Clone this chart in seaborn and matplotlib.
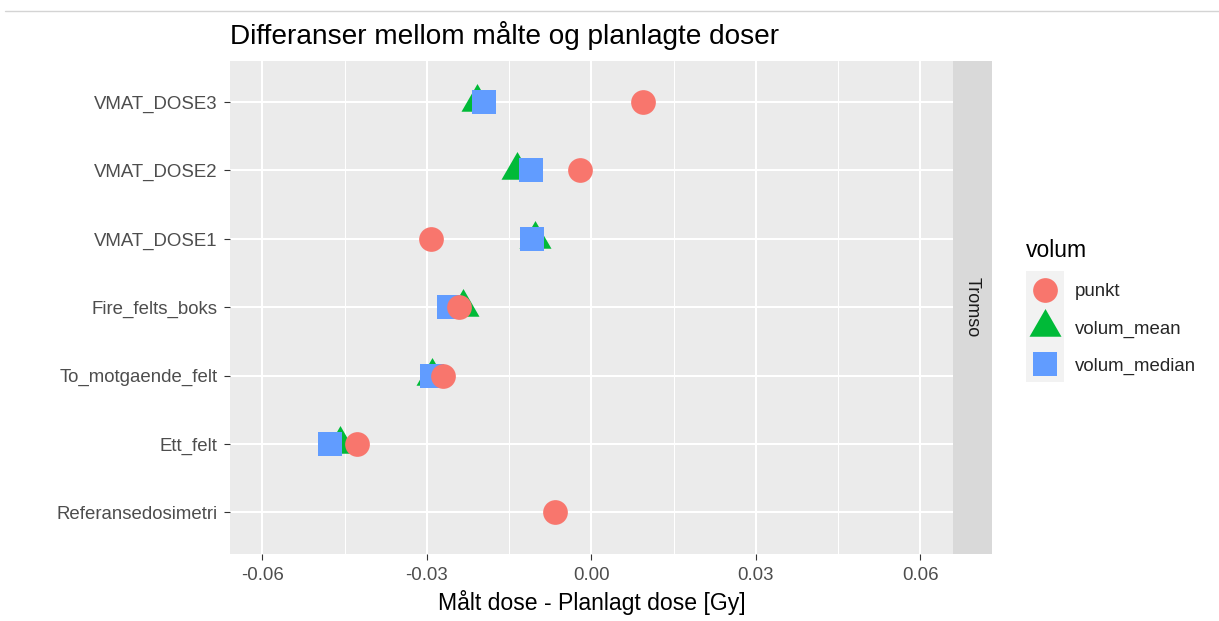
import numpy as np
import pandas as pd
import matplotlib
matplotlib.use("Agg")
import matplotlib.pyplot as plt
from matplotlib.path import Path
from matplotlib.lines import Line2D
from matplotlib.patches import Rectangle
import seaborn as sns

# --------- Data -----------------------------------
felt = ["VMAT_DOSE3", "VMAT_DOSE2", "VMAT_DOSE1", "Fire_felts_boks",
        "To_motgaende_felt", "Ett_felt", "Referansedosimetri"]
punkt = [0.0094, -0.0021, -0.0293, -0.0242, -0.0271, -0.0428, -0.0067]
volum_mean = [-0.0209, -0.0135, -0.0102, -0.0235, -0.0290, -0.0458, np.nan]
volum_median = [-0.0195, -0.0111, -0.0109, -0.0260, -0.0290, -0.0477, np.nan]
volum_levels = ["punkt", "volum_mean", "volum_median"]
x_ticks = [-0.06, -0.03, 0.00, 0.03, 0.06]
x_minor = [-0.045, -0.015, 0.015, 0.045]
senter = "Tromso"

df = pd.DataFrame({"felt": felt, "punkt": punkt,
                   "volum_mean": volum_mean, "volum_median": volum_median})
df = df.melt(id_vars="felt", var_name="volum", value_name="diff").dropna()

# ggplot-ish look
sns.set_theme(style="white")
plt.rcParams["font.family"] = ["Liberation Sans", "DejaVu Sans"]

# equilateral triangle like ggplot shape 17
tri = Path([(0, 1.1547), (-1, -0.5774), (1, -0.5774), (0, 1.1547)], closed=True)
colors = {"punkt": "#F8766D", "volum_mean": "#00BA38", "volum_median": "#619CFF"}
markers = {"punkt": "o", "volum_mean": tri, "volum_median": "s"}
msize = {"punkt": 17.8, "volum_mean": 26.6, "volum_median": 17.3}

W, H = 1219, 621
p_left, p_right, p_top, p_bot = 229.5, 953.3, 61, 553.5

fig = plt.figure(figsize=(W / 100, H / 100), dpi=100)
ax = fig.add_axes([p_left / W, 1 - p_bot / H, (p_right - p_left) / W, (p_bot - p_top) / H])
ax.set_facecolor("#EBEBEB")

# draw order: mean, median, then punkt on top
for lvl in ["volum_mean", "volum_median", "punkt"]:
    sub = df[df["volum"] == lvl]
    sns.stripplot(data=sub, x="diff", y="felt", order=felt, jitter=False,
                  marker=markers[lvl], size=msize[lvl], color=colors[lvl],
                  linewidth=0, ax=ax, zorder=3)

ax.set_xlim(-0.066, 0.066)
ax.set_ylim(len(felt) - 1 + 0.6, -0.6)
ax.set_xticks(x_ticks)
ax.set_xticklabels([f"{t:.2f}" for t in x_ticks])
ax.set_xticks(x_minor, minor=True)
ax.grid(True, which="major", axis="both", color="white", linewidth=1.5, zorder=0)
ax.grid(True, which="minor", axis="x", color="white", linewidth=0.75, zorder=0)
ax.set_axisbelow(True)
for s in ax.spines.values():
    s.set_visible(False)
ax.tick_params(axis="both", which="major", length=4.3, width=0.8, color="#333333",
               labelsize=13.4, labelcolor="#4D4D4D", pad=4.5,
               bottom=True, left=True)
ax.tick_params(axis="x", which="major", pad=5.5)
ax.tick_params(axis="x", which="minor", length=0)
ax.set_xlabel("Målt dose - Planlagt dose [Gy]", fontsize=16.6, color="black", labelpad=4)
ax.set_ylabel("")
ax.set_title("Differanser mellom målte og planlagte doser", loc="left",
             fontsize=20.2, color="black", pad=12)

# facet strip on the right
sax = fig.add_axes([p_right / W, 1 - p_bot / H, 38.5 / W, (p_bot - p_top) / H])
sax.set_facecolor("#D9D9D9")
sax.set_xticks([]); sax.set_yticks([])
for s in sax.spines.values():
    s.set_visible(False)
sax.text(0.5, 0.5, senter, rotation=-90, ha="center", va="center",
         fontsize=13, color="#1A1A1A", transform=sax.transAxes)

# legend: grey key column, title as separate text
handles = [Line2D([], [], marker=markers[l], markersize=msize[l], color=colors[l],
                  markeredgewidth=0, linestyle="none") for l in volum_levels]
fig.patches.append(Rectangle((1026 / W, 1 - 382 / H), 37.5 / W, 111 / H,
                             transform=fig.transFigure, facecolor="#F2F2F2",
                             edgecolor="none", zorder=-1))
fig.text(1026 / W, 1 - 250.5 / H, "volum", fontsize=16.5, color="black",
         ha="left", va="center")
ax.legend(handles, volum_levels, loc="center left",
          bbox_to_anchor=(1026 / W, 1 - 329 / H), bbox_transform=fig.transFigure,
          frameon=False, fontsize=13.4, handlelength=2.0,
          handletextpad=0.62, labelspacing=1.08, borderpad=0, borderaxespad=0)

# thin rule at the very top of the screenshot
fig.add_artist(Line2D([5 / W, 1], [1 - 11 / H, 1 - 11 / H],
                      color="#D4D4D4", linewidth=1.0))

fig.savefig("out.png", dpi=100, facecolor="white")
